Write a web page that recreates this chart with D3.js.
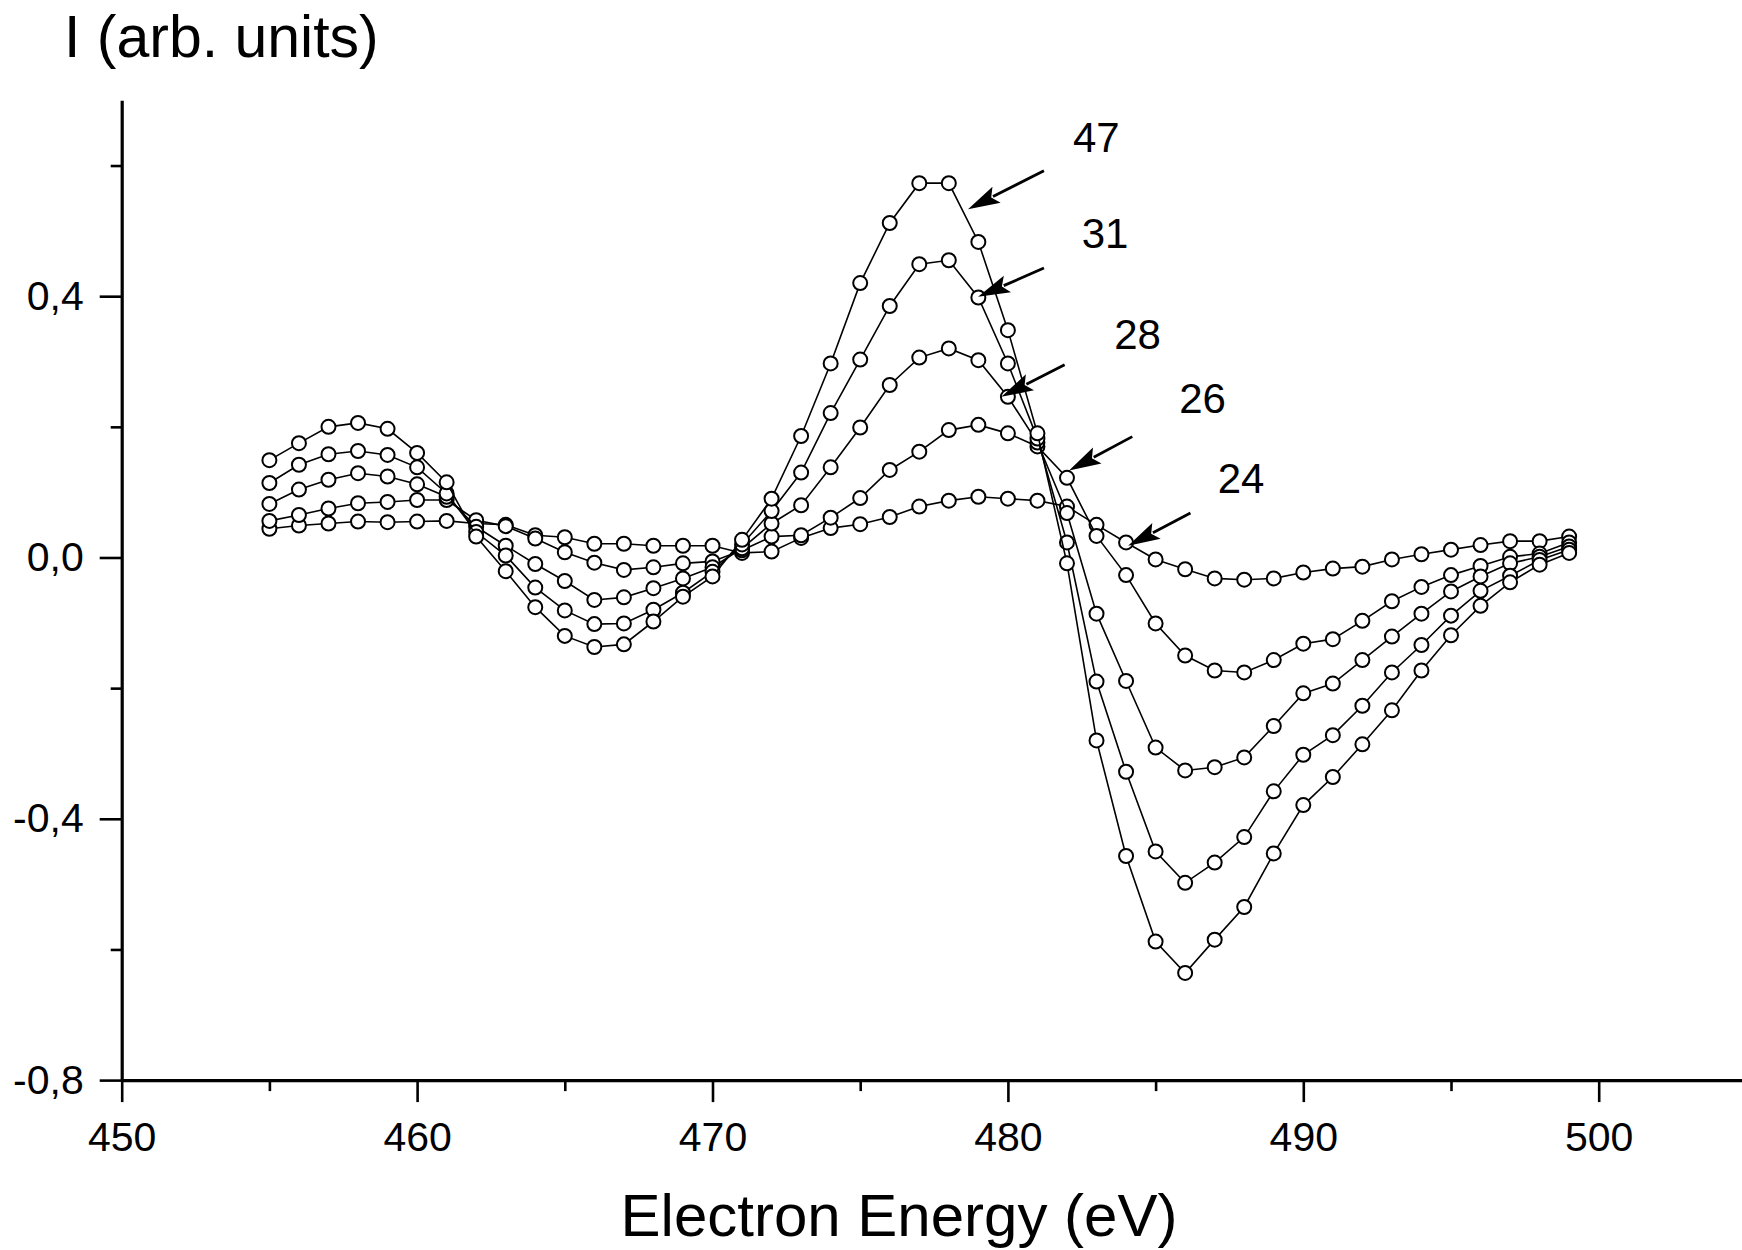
<!DOCTYPE html>
<html>
<head>
<meta charset="utf-8">
<script src="https://cdn.jsdelivr.net/npm/d3@7"></script>
<style>
  html, body { margin: 0; padding: 0; background: #fff; }
  svg { display: block; }
  text { font-family: "Liberation Sans", Arial, Helvetica, sans-serif; fill: #000; }
</style>
</head>
<body>
<svg id="chart" width="1742" height="1250"></svg>
<script>
// Electron energy (eV)
const energy = [455, 456, 457, 458, 459, 460, 461, 462, 463, 464, 465, 466, 467, 468, 469,
  470, 471, 472, 473, 474, 475, 476, 477, 478, 479, 480, 481, 482, 483, 484,
  485, 486, 487, 488, 489, 490, 491, 492, 493, 494, 495, 496, 497, 498, 499];

// Intensity curves (arb. units), one per labelled spectrum
const s47 = [0.149, 0.175, 0.200, 0.206, 0.197, 0.160, 0.115, 0.032, -0.021, -0.076, -0.120, -0.137, -0.133, -0.098, -0.060,
  -0.029, 0.027, 0.090, 0.186, 0.297, 0.420, 0.512, 0.573, 0.573, 0.483, 0.348, 0.190, -0.009, -0.280, -0.457,
  -0.588, -0.636, -0.585, -0.535, -0.453, -0.379, -0.336, -0.286, -0.234, -0.173, -0.119, -0.074, -0.038, -0.011, 0.007];
const s31 = [0.114, 0.142, 0.158, 0.163, 0.157, 0.138, 0.098, 0.039, 0.003, -0.046, -0.081, -0.102, -0.101, -0.080, -0.054,
  -0.022, 0.020, 0.071, 0.130, 0.221, 0.303, 0.385, 0.449, 0.455, 0.398, 0.297, 0.182, 0.023, -0.190, -0.328,
  -0.450, -0.498, -0.467, -0.428, -0.358, -0.302, -0.272, -0.227, -0.176, -0.134, -0.089, -0.051, -0.028, -0.004, 0.012];
const s28 = [0.082, 0.104, 0.119, 0.129, 0.124, 0.112, 0.093, 0.047, 0.018, -0.010, -0.036, -0.065, -0.061, -0.047, -0.032,
  -0.015, 0.014, 0.052, 0.080, 0.138, 0.199, 0.264, 0.306, 0.320, 0.302, 0.246, 0.176, 0.068, -0.086, -0.189,
  -0.291, -0.326, -0.321, -0.306, -0.258, -0.208, -0.193, -0.157, -0.121, -0.086, -0.052, -0.029, -0.009, 0.001, 0.017];
const s26 = [0.056, 0.065, 0.075, 0.083, 0.085, 0.088, 0.088, 0.057, 0.048, 0.029, 0.008, -0.008, -0.019, -0.015, -0.009,
  -0.006, 0.011, 0.032, 0.034, 0.061, 0.091, 0.134, 0.162, 0.195, 0.203, 0.190, 0.170, 0.122, 0.033, -0.027,
  -0.101, -0.150, -0.173, -0.176, -0.157, -0.132, -0.125, -0.097, -0.067, -0.045, -0.027, -0.013, 0.001, 0.006, 0.023];
const s24 = [0.044, 0.049, 0.052, 0.055, 0.054, 0.055, 0.056, 0.052, 0.050, 0.034, 0.031, 0.021, 0.021, 0.018, 0.018,
  0.018, 0.007, 0.009, 0.030, 0.045, 0.051, 0.062, 0.078, 0.087, 0.093, 0.090, 0.087, 0.078, 0.050, 0.023,
  -0.003, -0.018, -0.032, -0.034, -0.032, -0.023, -0.017, -0.014, -0.003, 0.005, 0.012, 0.019, 0.025, 0.025, 0.032];

const seriesNames = ["47", "31", "28", "26", "24"];
const seriesValues = [s47, s31, s28, s26, s24];

// Axis ticks
const xMajorTicks = [450, 460, 470, 480, 490, 500];
const xMinorTicks = [455, 465, 475, 485, 495, 505];
const yMajorTicks = [-0.8, -0.4, 0.0, 0.4];
const yMinorTicks = [-0.6, -0.2, 0.2, 0.6];
const yTickLabels = ["-0,8", "-0,4", "0,0", "0,4"];

// Annotation labels (text anchor point) and arrows (tail -> head) in data units
const labelPos = [[482.2, 0.621], [482.5, 0.473], [483.6, 0.319], [485.8, 0.221], [487.1, 0.098]];
const arrowTail = [[481.22, 0.592], [481.22, 0.443], [481.92, 0.295], [484.21, 0.185], [486.18, 0.068]];
const arrowHead = [[478.65, 0.533], [478.99, 0.399], [479.78, 0.246], [482.07, 0.133], [484.07, 0.018]];

const svg = d3.select("#chart");

const x = d3.scaleLinear().domain([450, 505]).range([121.7, 1746.4]);
const y = d3.scaleLinear().domain([-0.8, 0.7]).range([1080.1, 100.2]);

const axisFont = "41px";

// X axis: major ticks with labels, minor ticks without
svg.append("g").attr("transform", `translate(0,${y(-0.8)})`)
  .call(d3.axisBottom(x).tickValues(xMajorTicks).tickSize(22).tickSizeOuter(0).tickPadding(20)
    .tickFormat(d3.format("d")));
svg.append("g").attr("transform", `translate(0,${y(-0.8)})`)
  .call(d3.axisBottom(x).tickValues(xMinorTicks).tickSize(11).tickSizeOuter(0).tickFormat(""))
  .select(".domain").remove();

// Y axis
svg.append("g").attr("transform", `translate(${x(450)},0)`)
  .call(d3.axisLeft(y).tickValues(yMajorTicks).tickSize(22).tickSizeOuter(0).tickPadding(16)
    .tickFormat((d, i) => yTickLabels[i]));
svg.append("g").attr("transform", `translate(${x(450)},0)`)
  .call(d3.axisLeft(y).tickValues(yMinorTicks).tickSize(11).tickSizeOuter(0).tickFormat(""))
  .select(".domain").remove();

svg.selectAll(".domain").attr("stroke", "#000").attr("stroke-width", 3.2);
svg.selectAll(".tick line").attr("stroke", "#000").attr("stroke-width", 2.6);
svg.selectAll(".tick text")
  .style("font-family", "'Liberation Sans', Arial, sans-serif")
  .style("font-size", axisFont).attr("fill", "#000");

// Axis titles
svg.append("text").attr("x", 899).attr("y", 1236)
  .attr("text-anchor", "middle").style("font-size", "60px")
  .text("Electron Energy (eV)");
svg.append("text").attr("x", 64).attr("y", 57)
  .attr("text-anchor", "start").style("font-size", "59px")
  .text("I (arb. units)");

// Curves with open circle markers
const line = d3.line().x((d, i) => x(energy[i])).y(d => y(d));
const plot = svg.append("g");
seriesValues.slice().reverse().forEach(vals => {
  const g = plot.append("g");
  g.append("path").datum(vals).attr("d", line)
    .attr("fill", "none").attr("stroke", "#000").attr("stroke-width", 1.6);
  g.selectAll("circle").data(vals).join("circle")
    .attr("cx", (d, i) => x(energy[i])).attr("cy", d => y(d)).attr("r", 7)
    .attr("fill", "#fff").attr("stroke", "#000").attr("stroke-width", 2);
});

// Arrows and labels
const ann = svg.append("g");
seriesNames.forEach((name, i) => {
  const [tx, ty] = [x(arrowTail[i][0]), y(arrowTail[i][1])];
  const [hx, hy] = [x(arrowHead[i][0]), y(arrowHead[i][1])];
  const dx = hx - tx, dy = hy - ty, len = Math.hypot(dx, dy);
  const ux = dx / len, uy = dy / len;
  const headLen = 32, headHalf = 9;
  const bx = hx - ux * headLen, by = hy - uy * headLen;
  ann.append("line").attr("x1", tx).attr("y1", ty).attr("x2", bx + ux * 4).attr("y2", by + uy * 4)
    .attr("stroke", "#000").attr("stroke-width", 2.8);
  ann.append("path")
    .attr("d", `M${hx},${hy}L${bx - uy * headHalf},${by + ux * headHalf}L${bx + ux * 6},${by + uy * 6}L${bx + uy * headHalf},${by - ux * headHalf}Z`)
    .attr("fill", "#000");
  ann.append("text").attr("x", x(labelPos[i][0])).attr("y", y(labelPos[i][1]))
    .style("font-size", "42px").text(name);
});
</script>
</body>
</html>
